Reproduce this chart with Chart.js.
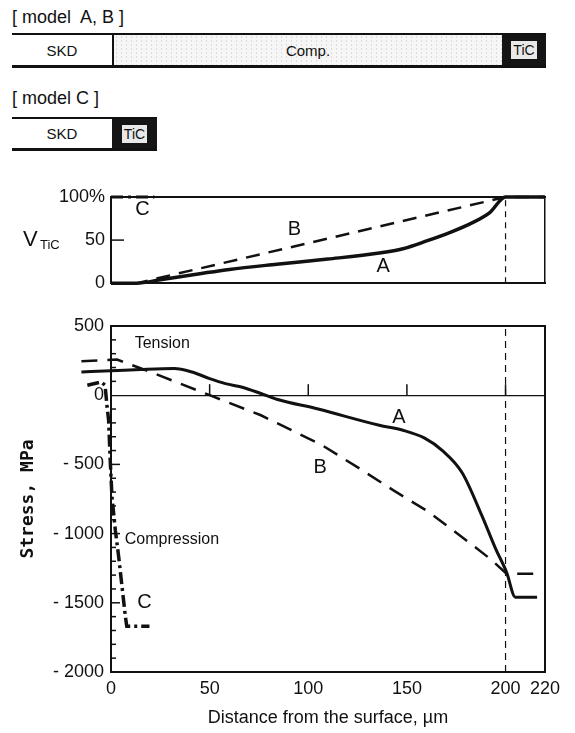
<!DOCTYPE html>
<html>
<head>
<meta charset="utf-8">
<script src="https://cdn.jsdelivr.net/npm/chart.js@4.4.1/dist/chart.umd.min.js"></script>
<style>
  body { margin: 0; background: #fff; }
  #page { position: relative; width: 575px; height: 733px; overflow: hidden; font-family: 'Liberation Sans', Arial, sans-serif; color: #111; }
  .cap { position: absolute; left: 12px; font-size: 18px; white-space: pre; }
  .bar { position: absolute; left: 12px; box-sizing: border-box; border-top: 2px solid #111; border-bottom: 3px solid #111; }
  .seg { position: absolute; top: 0; bottom: 0; display: flex; align-items: center; justify-content: center; font-size: 15px; box-sizing: border-box; }
  .comp { background-color: #f6f6f6; background-image: radial-gradient(#d9d9d9 0.6px, transparent 0.8px); background-size: 5px 4px; }
  .tic { background: #151515; }
  .tic span { display: block; background: #e9e9e9; color: #111; font-size: 14px; padding: 1px 2px; line-height: 16px; }
  canvas { position: absolute; left: 0; }
</style>
</head>
<body>
<div id="page">
  <div class="cap" style="top:7px">[ model  A, B ]</div>
  <div class="bar" style="top:33px; width:534px; height:35px">
    <div class="seg" style="left:0; width:102px; border-right:2px solid #111">SKD</div>
    <div class="seg comp" style="left:102px; width:388px">Comp.</div>
    <div class="seg tic" style="left:490px; width:44px"><span>TiC</span></div>
  </div>
  <div class="cap" style="top:88px">[ model C ]</div>
  <div class="bar" style="top:117px; width:145px; height:34px">
    <div class="seg" style="left:0; width:100px">SKD</div>
    <div class="seg tic" style="left:100px; width:45px"><span>TiC</span></div>
  </div>
  <canvas id="chart-vtic" width="575" height="120" style="top:180px"></canvas>
  <canvas id="chart-stress" width="575" height="433" style="top:300px"></canvas>
</div>
<script>
// depth ticks shared by both panels (µm)
const depthTicks = [0, 50, 100, 150, 200, 220];
const vticTicks = [0, 50, 100];
const interfaceDepth = 200;

// V_TiC (%) vs depth
const vticDepthA = [0, 13, 25, 45, 60, 84, 110, 136, 148, 160, 172, 183, 192, 200, 220];
const vticA      = [0, 0, 4, 11, 16, 22, 28, 35, 40, 49, 59, 70, 82, 100, 100];
const vticDepthB = [0, 13, 200, 220];
const vticB      = [0, 0, 100, 100];
const vticDepthC = [0, 22];
const vticC      = [100, 100];

// residual stress (MPa) vs depth (negative depth = drawn past the surface line)
const stressDepthA = [-15, 0, 15, 32, 41, 50, 58, 67, 76, 84, 105, 136, 148, 159, 168, 178, 188, 195, 200.5, 205, 216];
const stressA      = [168, 176, 186, 193, 168, 120, 84, 56, 12, -29, -100, -217, -253, -310, -400, -560, -870, -1110, -1278, -1460, -1460];
const stressDepthB = [-15, 3, 20, 50, 76, 107, 126, 143, 161, 180, 192, 200.5, 216];
const stressB      = [246, 258, 168, 0, -145, -361, -530, -686, -843, -1048, -1180, -1290, -1290];
const stressDepthC = [-12, -5, -3, -2, -1.2, -0.4, 0.5, 2.2, 3.9, 5.6, 7.3, 8, 19.5];
const stressC      = [72, 96, 72, -84, -181, -470, -735, -975, -1168, -1385, -1602, -1670, -1670];

const INK = '#111';
const FONT = "'Liberation Sans', Arial, sans-serif";
Chart.defaults.font.family = FONT;
Chart.defaults.color = INK;

const pts = (xs, ys) => xs.map((x, i) => ({ x, y: ys[i] }));

// tick marks drawn inward, like the printed figure
const innerTicks = {
    id: 'innerTicks',
    afterDraw(chart, args, opts) {
        const { ctx, chartArea: a } = chart;
        ctx.save();
        ctx.strokeStyle = INK;
        ctx.lineWidth = 1.5;
        (opts.marks || []).forEach(m => {
            const scale = chart.scales[m.axis];
            scale.ticks.forEach(t => {
                const len = m.len(t.value);
                if (!len) return;
                const p = scale.getPixelForValue(t.value);
                ctx.beginPath();
                if (scale.isHorizontal()) {
                    const base = m.at === undefined ? a.bottom : chart.scales.y.getPixelForValue(m.at);
                    ctx.moveTo(p, base);
                    ctx.lineTo(p, base - len);
                } else {
                    ctx.moveTo(a.left, p);
                    ctx.lineTo(a.left + len, p);
                }
                ctx.stroke();
            });
        });
        ctx.restore();
    }
};

// curve labels placed in data coordinates
const textLabels = {
    id: 'textLabels',
    afterDatasetsDraw(chart, args, opts) {
        const { ctx, scales: { x, y } } = chart;
        ctx.save();
        ctx.fillStyle = INK;
        ctx.textBaseline = 'middle';
        (opts.items || []).forEach(it => {
            ctx.font = it.font;
            ctx.textAlign = it.align || 'center';
            ctx.fillText(it.text, x.getPixelForValue(it.x), y.getPixelForValue(it.y));
        });
        if (opts.vtic) {
            const yy = y.getPixelForValue(50);
            const left = chart.chartArea.left;
            ctx.textAlign = 'left';
            ctx.font = `22px ${FONT}`;
            ctx.fillText('V', left - 88, yy);
            ctx.font = `13px ${FONT}`;
            ctx.fillText('TiC', left - 71, yy + 5);
        }
        ctx.restore();
    }
};

const frameAxis = (position, lo, hi, size, width) => ({
    type: 'linear', position, min: lo, max: hi,
    ticks: { display: false },
    grid: { display: false, drawTicks: false },
    border: { color: INK, width },
    afterFit: s => { if (s.isHorizontal()) s.height = size; else s.width = size; }
});

const lineStyle = (data, width, dash, mode) => ({
    data, borderColor: INK, borderWidth: width, borderDash: dash || [],
    pointRadius: 0, fill: false, clip: false,
    tension: mode === 'smooth' ? 0.4 : 0,
    cubicInterpolationMode: mode === 'smooth' ? 'monotone' : 'default'
});

// depth range is fixed after the data limits (not via min/max) so that
// the line parts left of the surface are not culled
const fixDepthRange = s => { s.min = 0; s.max = 220; };

// --- upper panel: V_TiC ---
new Chart(document.getElementById('chart-vtic'), {
    type: 'line',
    data: {
        datasets: [
            lineStyle(pts([interfaceDepth, interfaceDepth], [0, 100]), 1.2, [6, 5]),
            lineStyle(pts(vticDepthB, vticB), 2.5, [14, 9]),
            lineStyle(pts(vticDepthA, vticA), 3.5, [], 'smooth'),
            lineStyle(pts(vticDepthC, vticC), 3, [12, 5, 3, 5])
        ]
    },
    options: {
        responsive: false,
        animation: false,
        events: [],
        layout: { padding: { top: 17, right: 30, bottom: 0, left: 0 } },
        plugins: {
            legend: { display: false },
            tooltip: { enabled: false },
            innerTicks: { marks: [{ axis: 'y', len: v => (v === 50 ? 13 : 0) }] },
            textLabels: {
                vtic: true,
                items: [
                    { text: 'C', x: 16, y: 85, font: `20px ${FONT}` },
                    { text: 'B', x: 93, y: 62, font: `20px ${FONT}` },
                    { text: 'A', x: 138, y: 19, font: `20px ${FONT}` }
                ]
            }
        },
        scales: {
            x: frameAxis('bottom', 0, 220, 8, 2),
            xTop: frameAxis('top', 0, 220, 0, 2),
            yRight: frameAxis('right', 0, 100, 0, 1.5),
            y: {
                type: 'linear', position: 'left', min: 0, max: 100,
                afterBuildTicks: s => { s.ticks = vticTicks.map(v => ({ value: v })); },
                ticks: { callback: v => (v === 100 ? '100%' : String(v)), padding: 6, font: { size: 18 } },
                grid: { display: false, drawTicks: false },
                border: { color: INK, width: 2 },
                afterFit: s => { s.width = 111; }
            }
        }
    },
    plugins: [innerTicks, textLabels]
});

// curve C hooks back past the surface; indexing it on y keeps every point drawn
const stressLineC = Object.assign(lineStyle(pts(stressDepthC, stressC), 3.5, [12, 4, 3, 4]), { indexAxis: 'y' });

// --- lower panel: residual stress ---
new Chart(document.getElementById('chart-stress'), {
    type: 'line',
    data: {
        datasets: [
            lineStyle(pts([interfaceDepth, interfaceDepth], [-2000, 500]), 1.2, [7, 5]),
            lineStyle(pts(stressDepthB, stressB), 2.5, [16, 10]),
            lineStyle(pts(stressDepthA, stressA), 3, [], 'smooth'),
            stressLineC
        ]
    },
    options: {
        responsive: false,
        animation: false,
        events: [],
        layout: { padding: { top: 26, right: 30, bottom: 0, left: 0 } },
        plugins: {
            legend: { display: false },
            tooltip: { enabled: false },
            innerTicks: {
                marks: [
                    { axis: 'x', len: v => (v > 0 && v < 220 ? 14 : 0) },
                    { axis: 'x', at: 0, len: v => (v > 0 && v < 220 ? 11 : 0) },
                    { axis: 'y', len: v => (v === 0 || v === 500 || v === -2000 ? 0 : (v % 500 === 0 ? 9 : 5)) }
                ]
            },
            textLabels: {
                items: [
                    { text: 'Tension', x: 12, y: 370, font: `16px ${FONT}`, align: 'left' },
                    { text: 'Compression', x: 7, y: -1040, font: `16px ${FONT}`, align: 'left' },
                    { text: 'A', x: 146, y: -160, font: `20px ${FONT}` },
                    { text: 'B', x: 106, y: -520, font: `20px ${FONT}` },
                    { text: 'C', x: 17, y: -1495, font: `20px ${FONT}` }
                ]
            }
        },
        scales: {
            xTop: frameAxis('top', 0, 220, 0, 2),
            yRight: frameAxis('right', -2000, 500, 0, 2),
            x: {
                type: 'linear', position: 'bottom', bounds: 'data',
                afterDataLimits: fixDepthRange,
                afterBuildTicks: s => { fixDepthRange(s); s.ticks = depthTicks.map(v => ({ value: v })); },
                ticks: { padding: 6, font: { size: 18 }, maxRotation: 0 },
                grid: { display: false, drawTicks: false },
                border: { color: INK, width: 2 },
                title: { display: true, text: 'Distance from the surface, µm', font: { size: 18 }, padding: { top: 0, bottom: 4 } },
                afterFit: s => { s.height = 61; }
            },
            y: {
                type: 'linear', position: 'left', min: -2000, max: 500,
                ticks: {
                    stepSize: 100, autoSkip: false, padding: 7, font: { size: 18 },
                    callback: v => (v % 500 !== 0 ? '' : (v < 0 ? '- ' + (-v) : String(v)))
                },
                grid: {
                    drawTicks: false,
                    color: c => (c.tick && c.tick.value === 0 ? INK : 'rgba(0,0,0,0)'),
                    lineWidth: 1.2
                },
                border: { color: INK, width: 2 },
                title: {
                    display: true, text: 'Stress, MPa',
                    font: { family: "'DejaVu Sans Mono', monospace", size: 18, weight: 'bold' },
                    padding: { top: 18, bottom: 0 }
                },
                afterFit: s => { s.width = 111; }
            }
        }
    },
    plugins: [innerTicks, textLabels]
});
</script>
</body>
</html>
